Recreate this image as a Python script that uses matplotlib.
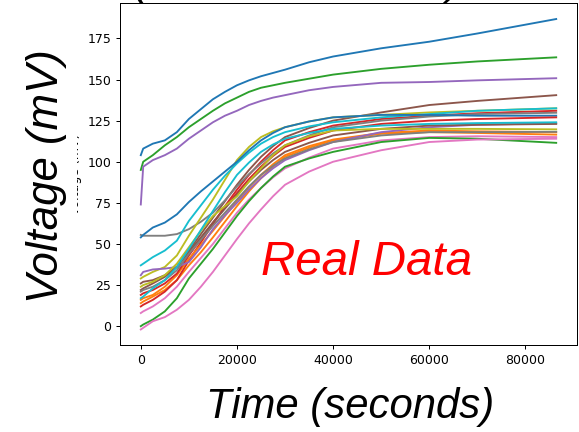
import matplotlib
matplotlib.use("Agg")
import matplotlib.pyplot as plt

# -----------------------------
# Data
# -----------------------------
time_s = [0, 500, 2500, 5000, 7500, 10000, 12500, 15000, 17500, 20000,
          22500, 25000, 27500, 30000, 35000, 40000, 50000, 60000, 70000, 86400]

# traces in plotting order (default colour cycle)
trace_01 = [104, 108, 111, 113, 118, 126, 132, 138, 142.5, 146.5,
            149.5, 152, 154, 156, 160.5, 164, 169, 173, 178, 186.8]
trace_02 = [14, 15, 18, 22, 28, 37, 45, 54, 63.5, 73,
            82, 90, 97, 103, 108.5, 113, 117, 118, 117.5, 116.5]
trace_03 = [95, 100, 104, 110, 115, 121, 126, 131, 135.5, 139,
            142.5, 145, 146.5, 148, 150.5, 153, 156.5, 159, 161, 163.5]
trace_04 = [12, 13, 16, 21, 28, 40, 51, 62, 73, 83,
            92, 100, 107, 113, 118, 122, 126, 128, 129.5, 131]
trace_05 = [74, 97, 101, 104, 108, 114, 119, 124, 128, 131,
            134.5, 137, 139, 140.5, 143.5, 145.5, 148, 148.5, 149.5, 150.8]
trace_06 = [26, 27, 28, 31, 36, 46, 56, 66, 76, 86,
            95, 103, 109.5, 115, 120.5, 125, 130, 134.5, 137, 140.5]
trace_07 = [8, 9, 12, 17, 24, 33, 41.5, 50, 59.5, 69,
            77, 84, 90.5, 96, 102.5, 108, 113, 115, 115.5, 115]
trace_08 = [55.5, 55, 55, 55, 56, 59, 63.5, 69, 76.5, 85,
            92.5, 99, 105, 110, 116, 121, 125, 127.5, 129, 129.8]
trace_09 = [29, 30, 33, 36, 43, 55, 66, 77, 89, 101,
            109, 115, 118.5, 121, 124.5, 127, 128.5, 130, 131, 132.5]
trace_10 = [37, 38, 42, 46, 52, 64, 73.5, 83, 91.5, 99,
            105.5, 111, 115, 118, 121.5, 124, 127, 129, 131, 132.5]
trace_11 = [54, 55.5, 60, 63, 68, 75.5, 82, 88, 94, 100,
            107, 113, 117.5, 121, 124.5, 127, 128.5, 128.5, 128, 128]
trace_12 = [16, 17, 19, 24, 31, 41, 49.5, 58, 67, 76,
            84.5, 92, 98.5, 104, 109.5, 113.5, 117.5, 119, 118.5, 118]
trace_13 = [0, 1, 4, 9, 17, 29, 38, 47, 57, 67,
            76, 84, 91, 97, 102, 106, 112, 114.5, 114, 111.5]
trace_14 = [19, 20, 22, 26, 32, 43, 53, 63, 72, 81,
            89.5, 97, 103.5, 109, 114.5, 119, 123, 125, 126, 127]
trace_15 = [31, 33, 34.5, 35, 36, 39, 48, 59, 67.5, 75,
            83, 90, 96, 101, 107, 112, 118, 121, 122.5, 123.4]
trace_16 = [22, 23, 26, 30, 36, 45, 54, 63, 71.5, 80,
            88, 95, 101, 106, 111.5, 116, 120, 122, 122.5, 123]
trace_17 = [-2, -1, 3, 5.5, 10, 16, 24, 33, 43, 53,
            62.5, 71, 79, 86, 94, 100, 107, 112, 113.5, 114]
trace_18 = [21, 22, 24, 28, 34, 44, 52.5, 61, 69, 77,
            85, 92, 97.5, 102, 107.5, 112, 116, 118, 118, 118.2]
trace_19 = [24, 25, 27, 31, 38, 48, 58, 67, 73, 79,
            88, 96, 104, 110, 115.5, 119, 120, 120, 120, 119.7]
trace_20 = [17, 18, 23, 28, 36, 47, 58.5, 70, 81.5, 92,
            99.5, 106, 110.5, 114, 117.5, 120, 122, 123, 123.5, 124]

traces = [trace_01, trace_02, trace_03, trace_04, trace_05, trace_06, trace_07,
          trace_08, trace_09, trace_10, trace_11, trace_12, trace_13, trace_14,
          trace_15, trace_16, trace_17, trace_18, trace_19, trace_20]

x_ticks = [0, 20000, 40000, 60000, 80000]


def make_chart():
    fig = plt.figure(figsize=(579 / 90, 432 / 90), dpi=90)
    ax = fig.add_axes([0.2073, 0.2014, 0.7892, 0.7905])

    # -----------------------------
    # Traces
    # -----------------------------
    for trace in traces:
        ax.plot(time_s, trace, linewidth=1.5)

    ax.set_xticks(x_ticks)
    ax.set_ylabel("Voltage (mV)")

    # -----------------------------
    # Overlay labels
    # -----------------------------
    big = dict(family="Liberation Sans", style="italic")
    fig.text(0.5135, 1.0139, "(Measured Data)", fontsize=35,
             ha="center", va="baseline", **big)
    fig.text(0.0795, 0.5915, "Voltage (mV)", fontsize=35, rotation=90,
             ha="center", va="center",
             bbox=dict(facecolor="white", edgecolor="none", pad=8), **big)
    fig.text(0.6045, 0.0590, "Time (seconds)", fontsize=33.5,
             ha="center", va="center", **big)
    ax.text(0.54, 0.205, "Real Data", transform=ax.transAxes, fontsize=38,
            color="red", ha="center", va="baseline", **big)

    fig.savefig("out.png", dpi=90)
    plt.close(fig)


if __name__ == "__main__":
    make_chart()
